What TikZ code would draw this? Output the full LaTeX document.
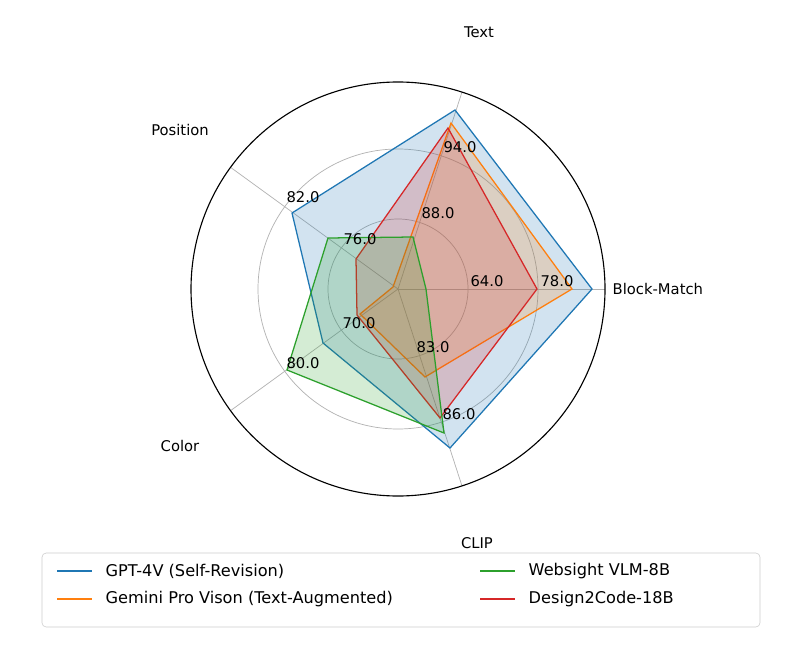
\documentclass[tikz,border=0pt]{standalone}
\usepackage{fontspec}
\setmainfont{DejaVu Sans}
\begin{document}
\begin{tikzpicture}[x=0.025cm,y=-0.025cm,
  lbl/.style={font=\fontsize{10.5}{12}\selectfont,inner sep=1pt},
  grid/.style={draw=black!30,line width=0.5pt},
  ser/.style={line width=0.9pt,fill opacity=0.2,draw opacity=1}]
\definecolor{cb}{HTML}{1F77B4}\definecolor{co}{HTML}{FF7F0E}
\definecolor{cg}{HTML}{2CA02C}\definecolor{cr}{HTML}{D62728}
\useasboundingbox (0,0) rectangle (800,649);
\fill[white] (0,0) rectangle (800,649);
\coordinate (c) at (398,289);
\draw[grid] (c) circle[radius=70];
\draw[grid] (c) circle[radius=140];
\foreach \a in {0,72,144,216,288} \draw[grid] (c) -- ++(\a:207 and -207);
% series
\draw[ser,draw=cb,fill=cb] (592,289) -- (455,110) -- (292,213) -- (323,343) -- (450,448) -- cycle;
\draw[ser,draw=co,fill=co] (572,289) -- (451,123) -- (393,287) -- (360,314) -- (425,377) -- cycle;
\draw[ser,draw=cr,fill=cr] (537,289) -- (448,128) -- (356,259) -- (357,315) -- (440,418) -- cycle;
\draw[ser,draw=cg,fill=cg] (426,289) -- (413,237) -- (328,238) -- (287,370) -- (444,433) -- cycle;
\draw[black,line width=0.8pt] (c) circle[radius=207];
% tick labels
\node[lbl] (t1) at (487,281) {64.0};
\node[lbl] (t2) at (557,281) {78.0};
\node[lbl] (t3) at (460,147) {94.0};
\node[lbl] (t4) at (438,213) {88.0};
\node[lbl] (t5) at (303,197) {82.0};
\node[lbl] (t6) at (360,239) {76.0};
\node[lbl] (t7) at (359,323) {70.0};
\node[lbl] (t8) at (303,363) {80.0};
\node[lbl] (t9) at (433,347) {83.0};
\node[lbl] (t10) at (459,414) {86.0};
% axis labels
\node[lbl] (aT) at (479,32) {Text};
\node[lbl] (aP) at (180,130) {Position};
\node[lbl,anchor=west] (aB) at (611,289) {Block-Match};
\node[lbl] (aC) at (180,446) {Color};
\node[lbl] (aL) at (477,543) {CLIP};
% legend
\draw[draw=black!20,rounded corners=3pt,fill=white] (42,553) rectangle (760,627);
\coordinate (l1a) at (57,571); \coordinate (l1b) at (92,571);
\coordinate (l2a) at (57,599); \coordinate (l2b) at (92,599);
\coordinate (l3a) at (480,571); \coordinate (l3b) at (515,571);
\coordinate (l4a) at (480,599); \coordinate (l4b) at (515,599);
\draw[cb,line width=0.9pt] (l1a) -- (l1b);
\draw[co,line width=0.9pt] (l2a) -- (l2b);
\draw[cg,line width=0.9pt] (l3a) -- (l3b);
\draw[cr,line width=0.9pt] (l4a) -- (l4b);
\node[lbl,anchor=west,font=\fontsize{11.5}{13}\selectfont] (g1) at (104,571) {GPT-4V (Self-Revision)};
\node[lbl,anchor=west,font=\fontsize{11.5}{13}\selectfont] (g2) at (104,599) {Gemini Pro Vison (Text-Augmented)};
\node[lbl,anchor=west,font=\fontsize{11.5}{13}\selectfont] (g3) at (527,571) {Websight VLM-8B};
\node[lbl,anchor=west,font=\fontsize{11.5}{13}\selectfont] (g4) at (527,599) {Design2Code-18B};
\end{tikzpicture}
\end{document}
